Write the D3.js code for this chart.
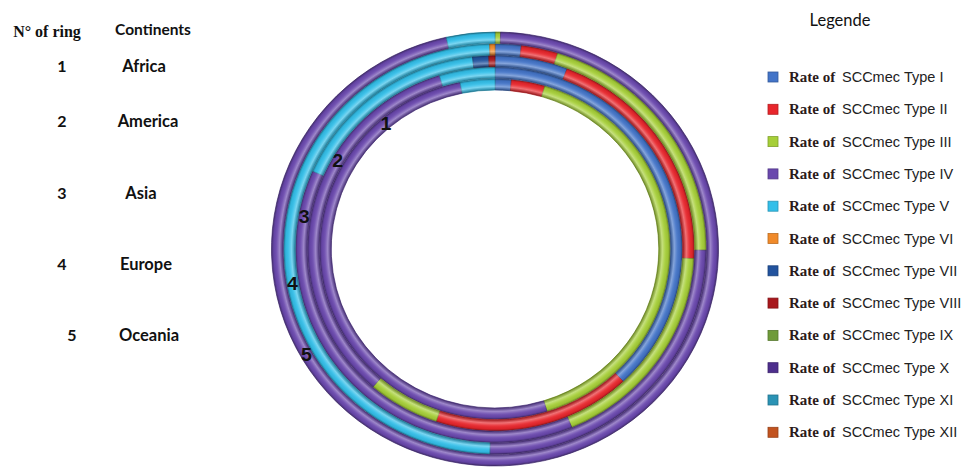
<!DOCTYPE html>
<html>
<head>
<meta charset="utf-8">
<script src="https://cdn.jsdelivr.net/npm/d3@7"></script>
<style>
  body { margin: 0; background: #fff; }
  svg { display: block; }
</style>
</head>
<body>
<div id="chart"></div>
<script>
// rings, inner to outer
const ringNumbers = ["1", "2", "3", "4", "5"];
const continents = ["Africa", "America", "Asia", "Europe", "Oceania"];
const types = ["I", "II", "III", "IV", "V", "VI", "VII", "VIII", "IX", "X", "XI", "XII"];
const typeColors = ["#4374c8", "#e8262c", "#a6cf38", "#6a48ae", "#33bfe9", "#f08a2a",
                    "#22539e", "#a8171c", "#6f9b3a", "#4d2e8c", "#2a93b5", "#c2531f"];

// rate (%) of each SCCmec type, read from the rings
const africa  = [1.5, 3.1, 40.6, 51.6, 3.2, 0, 0, 0, 0, 0, 0, 0];
const america = [38.0, 17.1, 6.2, 33.9, 4.8, 0, 0, 0, 0, 0, 0, 0];
const asia    = [5.9, 19.9, 17.9, 37.9, 16.6, 0, 1.3, 0.5, 0, 0, 0, 0];
const europe  = [2.0, 2.8, 20.3, 25.3, 49.2, 0.4, 0, 0, 0, 0, 0, 0];
const oceania = [0, 0, 0.4, 96.1, 3.5, 0, 0, 0, 0, 0, 0, 0];
const rates = [africa, america, asia, europe, oceania];

const width = 965;
const height = 468;
const cx = 495, cy = 249;

const svg = d3.select("#chart").append("svg")
    .attr("width", width)
    .attr("height", height)
    .attr("viewBox", [0, 0, width, height]);

const defs = svg.append("defs");

//radius of every ring
const r = d3.scaleBand()
    .domain(continents)
    .range([159, 217])
    .paddingInner(0.03);

const color = d3.scaleOrdinal(types, typeColors);

const pie = d3.pie().sort(null).value(d => d.value);

const rings = svg.append("g")
    .attr("transform", `translate(${cx},${cy}) scale(1.03,1)`);

continents.forEach((c, i) => {
    const inner = r(c);
    const outer = inner + r.bandwidth();
    const arc = d3.arc().innerRadius(inner).outerRadius(outer);
    const data = types.map((t, j) => ({ type: t, value: rates[i][j] }));

    const g = rings.append("g");
    g.selectAll("path")
        .data(pie(data).filter(d => d.data.value > 0))
        .join("path")
        .attr("d", arc)
        .attr("fill", d => color(d.data.type))
        .attr("stroke", d => d3.color(color(d.data.type)).darker(0.9))
        .attr("stroke-width", 0.7);

    //tube shading on top of the ring
    const w = outer - inner;
    const grad = defs.append("radialGradient")
        .attr("id", "shade" + i)
        .attr("gradientUnits", "userSpaceOnUse")
        .attr("cx", 0).attr("cy", 0).attr("r", outer);
    [[inner, "#000", 0.3], [inner + w * 0.3, "#fff", 0.35], [inner + w * 0.55, "#fff", 0.08],
     [inner + w * 0.8, "#000", 0.05], [outer, "#000", 0.35]]
        .forEach(s => grad.append("stop")
            .attr("offset", s[0] / outer)
            .attr("stop-color", s[1])
            .attr("stop-opacity", s[2]));
    g.append("path")
        .attr("d", d3.arc().innerRadius(inner).outerRadius(outer)({ startAngle: 0, endAngle: 2 * Math.PI }))
        .attr("fill", `url(#shade${i})`)
        .attr("pointer-events", "none");

    //ring number written on the ring
    const a = (320 - i * 20) * Math.PI / 180;
    const rr = inner + w / 2;
    g.append("text")
        .attr("x", Math.sin(a) * rr)
        .attr("y", -Math.cos(a) * rr)
        .attr("dy", "0.35em")
        .attr("text-anchor", "middle")
        .attr("font-family", "Liberation Sans, Arial, sans-serif")
        .attr("font-weight", "bold")
        .attr("font-size", 19)
        .attr("fill", "#111")
        .text(ringNumbers[i]);
});

//table on the left
const rowY = [66, 121, 193, 264, 335];
const table = svg.append("g").attr("fill", "#111");
table.append("text")
    .attr("x", 47).attr("y", 37)
    .attr("text-anchor", "middle")
    .attr("font-family", "Liberation Serif, serif")
    .attr("font-weight", "bold")
    .attr("font-size", 16)
    .text("N° of ring");
table.append("text")
    .attr("x", 153).attr("y", 35)
    .attr("text-anchor", "middle")
    .attr("font-family", "Lato, sans-serif")
    .attr("font-weight", "bold")
    .attr("font-size", 15.5)
    .text("Continents");
table.selectAll(".num")
    .data(ringNumbers)
    .join("text")
    .attr("x", (d, i) => i === 4 ? 72 : 62)
    .attr("y", (d, i) => rowY[i])
    .attr("dy", "0.35em")
    .attr("text-anchor", "middle")
    .attr("font-family", "Lato, sans-serif")
    .attr("font-weight", "bold")
    .attr("font-size", 16)
    .text(d => d);
table.selectAll(".cont")
    .data(continents)
    .join("text")
    .attr("x", (d, i) => [144, 148, 141, 146, 149][i])
    .attr("y", (d, i) => rowY[i])
    .attr("dy", "0.35em")
    .attr("text-anchor", "middle")
    .attr("font-family", "Lato, sans-serif")
    .attr("font-weight", "bold")
    .attr("font-size", 16.5)
    .text(d => d);

//legend
svg.append("text")
    .attr("x", 840).attr("y", 26)
    .attr("text-anchor", "middle")
    .attr("font-family", "Lato, sans-serif")
    .attr("font-size", 16.5)
    .attr("fill", "#111")
    .text("Legende");

const legend = svg.append("g")
    .selectAll("g")
    .data(types)
    .join("g")
    .attr("transform", (d, i) => `translate(768,${77 + i * 32.3})`);

legend.append("rect")
    .attr("x", 0).attr("y", -5)
    .attr("width", 10).attr("height", 10)
    .attr("fill", d => color(d))
    .attr("stroke", d => d3.color(color(d)).darker(0.7))
    .attr("stroke-width", 0.8);

const lt = legend.append("text")
    .attr("y", 0)
    .attr("dy", "0.35em")
    .attr("font-size", 14.5);
lt.append("tspan")
    .attr("x", 21)
    .attr("font-family", "Liberation Serif, serif")
    .attr("font-weight", "bold")
    .attr("font-size", 15)
    .attr("fill", "#2a1a1a")
    .text("Rate of");
lt.append("tspan")
    .attr("x", 74)
    .attr("font-family", "Liberation Sans, Arial, sans-serif")
    .attr("fill", "#222")
    .text("SCCmec");
lt.append("tspan")
    .attr("x", 136)
    .attr("font-family", "Liberation Sans, Arial, sans-serif")
    .attr("fill", "#222")
    .text(d => "Type " + d);
</script>
</body>
</html>
